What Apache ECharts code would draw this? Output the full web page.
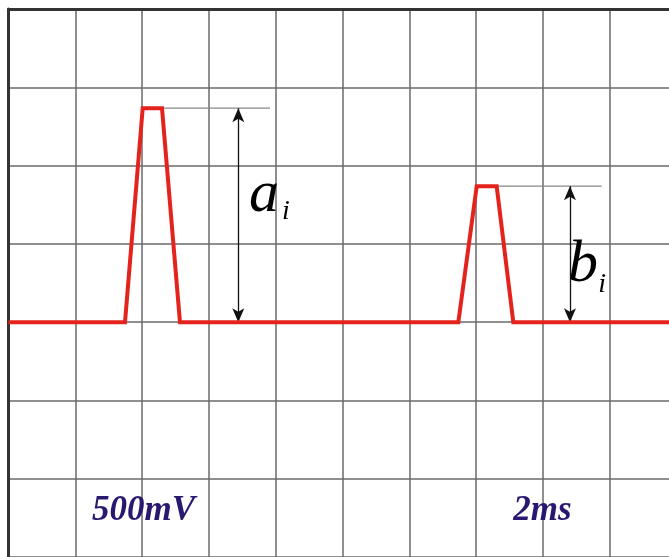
<!DOCTYPE html>
<html>
<head>
<meta charset="utf-8">
<script src="https://cdn.jsdelivr.net/npm/echarts@6/dist/echarts.min.js"></script>
<style>html,body{margin:0;padding:0;background:#fff}#c{width:669px;height:557px}</style>
</head>
<body>
<div id="c"></div>
<script>
// Signal trace (x in divisions, y in divisions from baseline)
const traceX = [0, 1.744, 2.009, 2.298, 2.567, 6.734, 7.009, 7.308, 7.557, 10];
const traceY = [0, 0, 2.733, 2.733, 0, 0, 1.737, 1.737, 0, 0];
// Pulse amplitudes a_i, b_i and their measurement guides
const pulseTopX = [2.298, 7.308];
const pulseAmp = [2.733, 1.737];
const guideEndX = [3.915, 8.88];
const arrowX = [3.44, 8.405];
const ampLabels = ['a', 'b'];
const ampLabelPos = [[3.825, 1.62], [8.60, 0.73]];
const subLabelPos = [[4.153, 1.41], [8.885, 0.485]];
// Scale labels
const scaleLabels = ['500mV', '2ms'];
const scaleLabelPos = [[2.021, -2.414], [7.994, -2.414]];

const chart = echarts.init(document.getElementById('c'), null, {renderer: 'canvas'});

const traceData = traceX.map((x, i) => [x, traceY[i]]);
const series = [];

// guide lines
pulseTopX.forEach((x, i) => {
  series.push({
    type: 'line', silent: true, symbol: 'none', z: 3,
    data: [[x, pulseAmp[i]], [guideEndX[i], pulseAmp[i]]],
    lineStyle: {color: '#888', width: 1.2}
  });
});

// double arrows
series.push({
  type: 'line', silent: true, symbol: 'none', data: [],
  markLine: {
    silent: true, animation: false,
    symbol: ['arrow', 'arrow'], symbolSize: [9, 14],
    label: {show: false},
    lineStyle: {color: '#111', width: 1.3, type: 'solid'},
    data: arrowX.map((x, i) => [{coord: [x, 0]}, {coord: [x, pulseAmp[i]]}])
  }
});

// trace
series.push({
  type: 'line', silent: true, symbol: 'none', z: 5,
  data: traceData,
  lineStyle: {color: '#e5231d', width: 4, join: 'miter'}
});

const labelItem = {opacity: 1};
// amplitude labels
series.push({
  type: 'scatter', silent: true, symbolSize: 0, z: 6, itemStyle: labelItem,
  data: ampLabelPos.map((p, i) => ({value: p, name: ampLabels[i]})),
  label: {
    show: true, position: 'inside', formatter: p => p.name,
    fontFamily: 'Liberation Serif', fontStyle: 'italic',
    fontSize: 60, color: '#000'
  }
});
series.push({
  type: 'scatter', silent: true, symbolSize: 0, z: 6, itemStyle: labelItem,
  data: subLabelPos.map(p => ({value: p})),
  label: {
    show: true, position: 'inside', formatter: 'i',
    fontFamily: 'Liberation Serif', fontStyle: 'italic',
    fontSize: 28, color: '#000'
  }
});
// scale labels
series.push({
  type: 'scatter', silent: true, symbolSize: 0, z: 6, itemStyle: labelItem,
  data: scaleLabelPos.map((p, i) => ({value: p, name: scaleLabels[i]})),
  label: {
    show: true, position: 'inside', formatter: p => p.name,
    fontFamily: 'Liberation Serif', fontStyle: 'italic', fontWeight: 'bold',
    fontSize: 35, color: '#2a1870'
  }
});

chart.setOption({
  animation: false,
  backgroundColor: '#fff',
  grid: {left: 8.5, top: 9, width: 668, height: 548, containLabel: false, outerBoundsMode: 'none'},
  xAxis: {
    type: 'value', min: 0, max: 10, interval: 1, position: 'top',
    axisLine: {show: true, onZero: false, lineStyle: {color: '#333', width: 3}},
    axisTick: {show: false}, axisLabel: {show: false},
    splitLine: {show: true, lineStyle: {color: '#6a6a6a', width: 1.5}}
  },
  yAxis: {
    type: 'value', min: -3, max: 4, interval: 1,
    axisLine: {show: true, onZero: false, lineStyle: {color: '#333', width: 3}},
    axisTick: {show: false}, axisLabel: {show: false},
    splitLine: {show: true, lineStyle: {color: '#6a6a6a', width: 1.5}}
  },
  series: series
});
</script>
</body>
</html>
